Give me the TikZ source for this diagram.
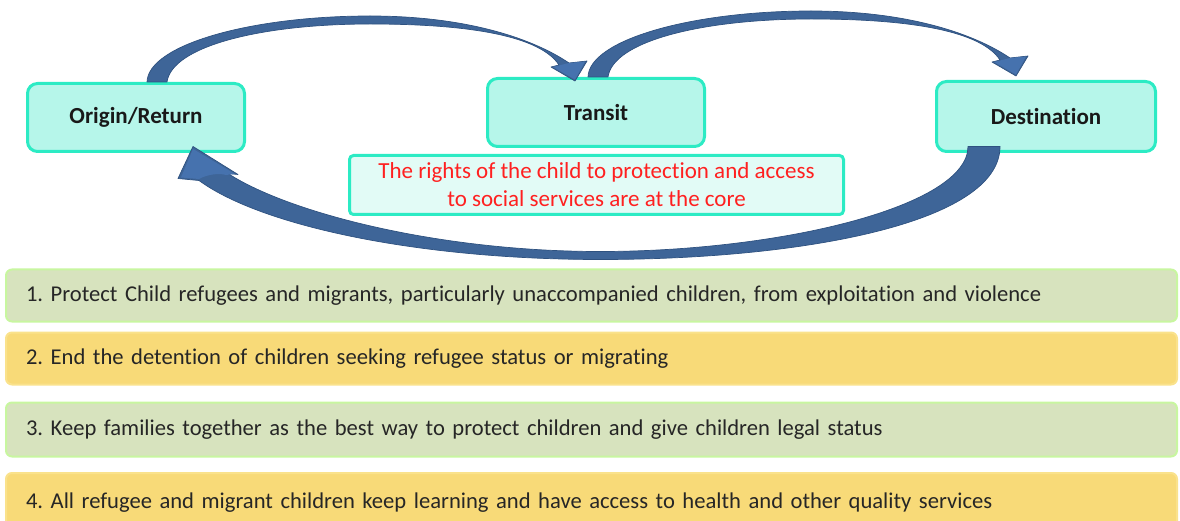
\documentclass[tikz,border=0pt]{standalone}
\usepackage{fontspec}
\setmainfont{Carlito}[Ligatures=NoCommon]
\usetikzlibrary{calc}
\frenchspacing

\definecolor{stageborder}{RGB}{44,235,196}
\definecolor{stagefill}{RGB}{182,246,234}
\definecolor{corefill}{RGB}{226,251,246}
\definecolor{corered}{RGB}{255,32,32}
\definecolor{arrowfill}{RGB}{62,101,152}
\definecolor{arrowhead}{RGB}{70,114,174}
\definecolor{arrowline}{RGB}{47,82,128}
\definecolor{greenfill}{RGB}{215,227,190}
\definecolor{greenline}{RGB}{200,246,160}
\definecolor{yellowfill}{RGB}{248,218,120}
\definecolor{yellowline}{RGB}{250,226,140}
\definecolor{bartext}{RGB}{38,38,38}

\tikzset{
  stage/.style={draw=stageborder, fill=stagefill, line width=3pt,
    rounded corners=10pt, minimum width=217pt, minimum height=68pt,
    font=\bfseries\fontsize{23}{28}\selectfont, text=black!90},
  corebox/.style={draw=stageborder, fill=corefill, line width=3pt,
    rounded corners=4pt, minimum width=494pt, minimum height=59pt,
    align=center, font=\fontsize{23}{28}\selectfont, text=corered},
  bar/.style={line width=2pt, rounded corners=6pt, anchor=west,
    text width=1131pt, inner xsep=20pt, minimum height=52pt, align=left,
    font=\fontsize{22.6}{28}\selectfont, text=bartext},
  greenbar/.style={bar, draw=greenline, fill=greenfill},
  yellowbar/.style={bar, draw=yellowline, fill=yellowfill},
  flowarrow/.style={fill=arrowfill, draw=arrowline, line width=0.7pt,
    line join=round},
  % curved block arrow over the top of two stages, drawn from its tail
  toparrow/.pic={
    \filldraw[flowarrow]
      (-10,0) .. controls (-9,-37) and (93,-66) .. (213,-66)
      .. controls (313,-66) and (378,-42) .. (412,-19)
      -- (430,-21) -- (418,-1) -- (394,-15) -- (402,-17)
      .. controls (383,-46) and (313,-58) .. (213,-58)
      .. controls (105,-58) and (15,-36) .. (10,0) -- cycle;
    \fill[arrowhead] (412,-19) -- (428,-20.5) -- (418,-2.5) -- (396,-15) -- cycle;
  }
}

\begin{document}
\begin{tikzpicture}[x=1pt,y=-1pt]
  \useasboundingbox (0,0) rectangle (1180,521);
  \clip (0,0) rectangle (1180,521);

  % stages of the journey
  \node[stage] (origin) at (136,117.5) {Origin/Return};
  \node[stage] (transit) at (596,112.5) {Transit};
  \node[stage, minimum width=219pt, minimum height=70pt] (destination) at (1046,116.5) {Destination};

  % core statement
  \node[corebox] (core) at (596.5,185) {The rights of the child to protection and access\\to social services are at the core};

  % flow arrows
  \pic at ($(origin.north)+(21,0)$) {toparrow};
  \pic at ($(transit.north)+(2,0)$) {toparrow};
  \begin{scope}[shift={(destination.south)}]
    \filldraw[flowarrow]
      (-46,-6.5) .. controls (-46,70.5) and (-246,106.5) .. (-446,106.5)
      .. controls (-626,106.5) and (-784,73.5) .. (-847,27.5)
      -- (-868,25.5) -- (-853,-6.5) -- (-808,21.5) -- (-818,20.5)
      .. controls (-756,60.5) and (-606,98.5) .. (-446,98.5)
      .. controls (-266,98.5) and (-78,53.5) .. (-78,-6.5) -- cycle;
    \fill[arrowhead] (-847,26) -- (-865,24.5) -- (-853,-4) -- (-811,21) -- (-820,22)
      .. controls (-826,20) and (-838,21) .. cycle;
  \end{scope}

  % agenda for action
  \node[greenbar] (a1) at (5,295.5) {1. Protect Child refugees and migrants, particularly unaccompanied children, from exploitation and violence};
  \node[yellowbar] (a2) at (5,358.5) {2. End the detention of children seeking refugee status or migrating};
  \node[greenbar, minimum height=54pt] (a3) at (5,429.5) {3. Keep families together as the best way to protect children and give children legal status};
  \node[yellowbar, minimum height=60pt] (a4) at (5,503) {4. All refugee and migrant children keep learning and have access to health and other quality services};
\end{tikzpicture}
\end{document}
